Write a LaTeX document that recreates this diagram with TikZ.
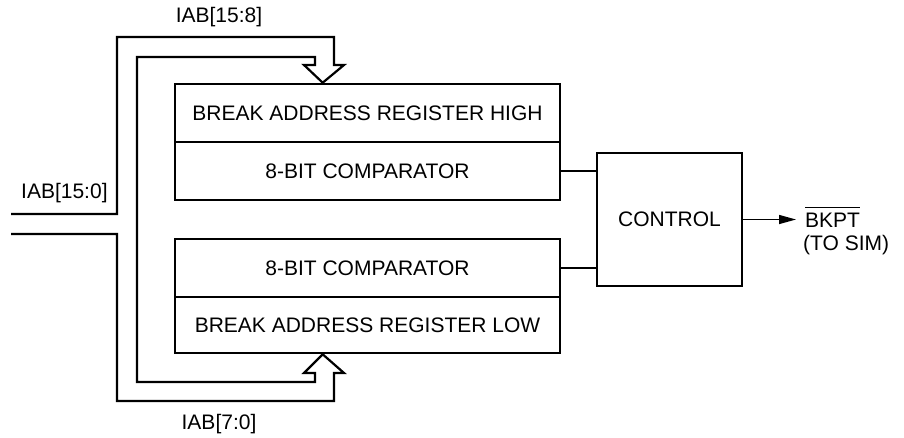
\documentclass[tikz,border=0pt]{standalone}
\usepackage{fontspec}
\setmainfont{Liberation Sans}
\usetikzlibrary{arrows.meta,calc}
\begin{document}
\begin{tikzpicture}[x=1pt,y=-1pt,
  every node/.style={font=\fontsize{21}{23}\selectfont},
  blk/.style={draw,line width=2.6pt,minimum width=385pt,inner sep=0pt},
  ctl/.style={draw,line width=2.6pt,minimum width=145pt,minimum height=133pt,inner sep=0pt},
  bus/.style={line width=2.2pt,line join=miter},
  wire/.style={line width=1.4pt},
  lbl/.style={inner sep=0pt}]
\useasboundingbox (0,0) rectangle (904,437);
% blocks
\node[blk,minimum height=58pt] (regH) at (367.5,113) {BREAK ADDRESS REGISTER HIGH};
\node[blk,minimum height=58pt] (cmpH) at (367.5,171) {8-BIT COMPARATOR};
\node[blk,minimum height=58pt] (cmpL) at (367.5,268) {8-BIT COMPARATOR};
\node[blk,minimum height=56pt] (regL) at (367.5,325) {BREAK ADDRESS REGISTER LOW};
\node[ctl] (ctrl) at (669.5,219.5) {CONTROL};
% wires
\draw[wire] (cmpH.east) -- (cmpH.east -| ctrl.west);
\draw[wire] (cmpL.east) -- (cmpL.east -| ctrl.west);
\coordinate (out) at (796,219.5);
\draw[wire,-{Triangle[length=17pt,width=9pt]}] (ctrl.east) -- (out);
\node[lbl,anchor=base west] (bkpt) at (805,227) {BKPT};
\draw[wire] ($(bkpt.north west)+(0,-5)$) -- ($(bkpt.north east)+(0,-5)$);
\node[lbl,anchor=base west] (tosim) at (803,250) {(TO SIM)};
% bus
\coordinate (tipH) at ($(regH.north west)+(149,0)$);
\coordinate (tipL) at ($(regL.south west)+(149,0)$);
\draw[bus] (11,214) -- (117,214) -- (117,37) -- (334,37) -- (334,65) -- (344,65)
  -- (tipH) -- (304,65) -- (315,65) -- (315,57) -- (137,57) -- (137,382)
  -- (315,382) -- (315,373) -- (304,373) -- (tipL) -- (344,373) -- (334,373)
  -- (334,401) -- (117,401) -- (117,234) -- (11,234);
% labels
\node[lbl] (l158) at (219,17) {IAB[15:8]};
\node[lbl,anchor=west] (l150) at (21,193) {IAB[15:0]};
\node[lbl] (l70) at (219,424) {IAB[7:0]};
\end{tikzpicture}
\end{document}
